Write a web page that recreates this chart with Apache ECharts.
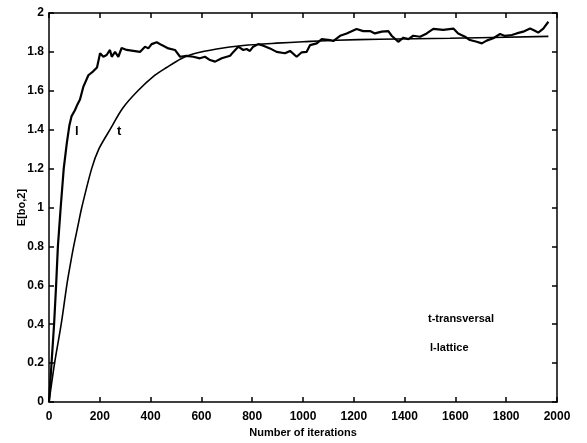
<!DOCTYPE html>
<html>
<head>
<meta charset="utf-8">
<script src="https://cdn.jsdelivr.net/npm/echarts@6/dist/echarts.min.js"></script>
<style>
  html, body { margin: 0; padding: 0; background: #fff; }
  #chart { width: 587px; height: 443px; }
</style>
</head>
<body>
<div id="chart"></div>
<script>
// Axis ticks
const xTicks = [0, 200, 400, 600, 800, 1000, 1200, 1400, 1600, 1800, 2000];
const yTicks = [0, 0.2, 0.4, 0.6, 0.8, 1, 1.2, 1.4, 1.6, 1.8, 2];

// Lattice estimate: [iteration, E[bo,2]]
const lattice = [
  [0,0],[10,0.2],[20,0.4],[28,0.6],[35,0.8],[46,1.0],[58,1.2],[70,1.33],[80,1.42],
  [89,1.47],[102,1.5],[112,1.53],[122,1.555],[135,1.62],[155,1.68],[174,1.70],
  [189,1.72],[194,1.75],[201,1.793],[214,1.775],[227,1.784],[240,1.81],[247,1.775],
  [260,1.80],[273,1.775],[286,1.82],[306,1.81],[332,1.805],[358,1.80],[378,1.827],
  [391,1.818],[404,1.84],[424,1.85],[444,1.835],[470,1.818],[496,1.81],[516,1.775],
  [542,1.78],[568,1.775],[594,1.767],[614,1.775],[634,1.758],[654,1.75],[680,1.767],
  [700,1.775],[713,1.78],[726,1.80],[745,1.827],[765,1.81],[778,1.815],[791,1.805],
  [804,1.827],[824,1.84],[844,1.832],[870,1.818],[896,1.80],[929,1.793],[949,1.805],
  [975,1.775],[995,1.798],[1014,1.80],[1028,1.835],[1054,1.844],[1074,1.866],
  [1106,1.861],[1119,1.856],[1146,1.883],[1172,1.895],[1211,1.918],[1237,1.907],
  [1264,1.907],[1283,1.895],[1310,1.904],[1336,1.907],[1349,1.883],[1375,1.852],
  [1395,1.873],[1415,1.866],[1434,1.883],[1461,1.878],[1487,1.895],[1513,1.918],
  [1552,1.913],[1592,1.92],[1611,1.895],[1638,1.878],[1657,1.861],[1684,1.852],
  [1704,1.844],[1723,1.858],[1749,1.87],[1776,1.892],[1795,1.882],[1822,1.887],
  [1841,1.895],[1867,1.904],[1894,1.92],[1913,1.909],[1926,1.899],[1946,1.92],
  [1966,1.955]
];

// Transversal estimate: [iteration, E[bo,2]]
const transversal = [
  [0,0],[22,0.2],[48,0.4],[70,0.6],[83,0.7],[97,0.8],[113,0.9],[129,1.0],[168,1.2],
  [196,1.3],[240,1.4],[290,1.51],[350,1.6],[417,1.68],[463,1.72],[520,1.765],
  [570,1.79],[660,1.815],[765,1.833],[896,1.845],[1000,1.852],[1133,1.86],
  [1300,1.865],[1579,1.87],[1966,1.88]
];

const FONT = '"Liberation Sans", Arial, sans-serif';
const tickLabel = { color: '#000', fontFamily: FONT, fontWeight: 'bold', fontSize: 12 };
const frameLine = { show: true, onZero: false, lineStyle: { color: '#000', width: 1.5 } };
const innerTick = { show: true, inside: true, length: 5, lineStyle: { color: '#000', width: 1.5 } };

const chart = echarts.init(document.getElementById('chart'), null, { renderer: 'canvas' });

chart.setOption({
  backgroundColor: '#fff',
  animation: false,
  grid: { left: 49, right: 30, top: 13, bottom: 41 },
  xAxis: [
    {
      type: 'value', min: 0, max: 2000, interval: 200,
      name: 'Number of iterations', nameLocation: 'middle', nameGap: 25,
      nameMoveOverlap: false,
      nameTextStyle: { color: '#000', fontFamily: FONT, fontWeight: 'bold', fontSize: 11 },
      axisLine: frameLine, axisTick: innerTick,
      axisLabel: Object.assign({ margin: 9, formatter: v => String(v) }, tickLabel),
      splitLine: { show: false }
    },
    {
      type: 'value', min: 0, max: 2000, interval: 200, position: 'top',
      axisLine: frameLine, axisTick: innerTick,
      axisLabel: { show: false }, splitLine: { show: false }
    }
  ],
  yAxis: [
    {
      type: 'value', min: 0, max: 2, interval: 0.2,
      name: 'E[bo,2]', nameLocation: 'middle', nameGap: 22,
      nameMoveOverlap: false,
      nameTextStyle: { color: '#000', fontFamily: FONT, fontWeight: 'bold', fontSize: 11 },
      axisLine: frameLine, axisTick: innerTick,
      axisLabel: Object.assign({ margin: 5, formatter: v => String(+v.toFixed(1)) }, tickLabel),
      splitLine: { show: false }
    },
    {
      type: 'value', min: 0, max: 2, interval: 0.2, position: 'right',
      axisLine: frameLine, axisTick: innerTick,
      axisLabel: { show: false }, splitLine: { show: false }
    }
  ],
  series: [
    {
      name: 'transversal', type: 'line', data: transversal, smooth: 0.3,
      showSymbol: false, lineStyle: { color: '#000', width: 1.6 }
    },
    {
      name: 'lattice', type: 'line', data: lattice,
      showSymbol: false, lineStyle: { color: '#000', width: 2.2 }
    }
  ],
  graphic: [
    { type: 'text', left: 75, top: 125, style: { text: 'l', fill: '#000', font: 'bold 13px ' + FONT } },
    { type: 'text', left: 117, top: 125, style: { text: 't', fill: '#000', font: 'bold 13px ' + FONT } },
    { type: 'text', left: 428, top: 313, style: { text: 't-transversal', fill: '#000', font: 'bold 11px ' + FONT } },
    { type: 'text', left: 430, top: 342, style: { text: 'l-lattice', fill: '#000', font: 'bold 11px ' + FONT } }
  ]
});
</script>
</body>
</html>
